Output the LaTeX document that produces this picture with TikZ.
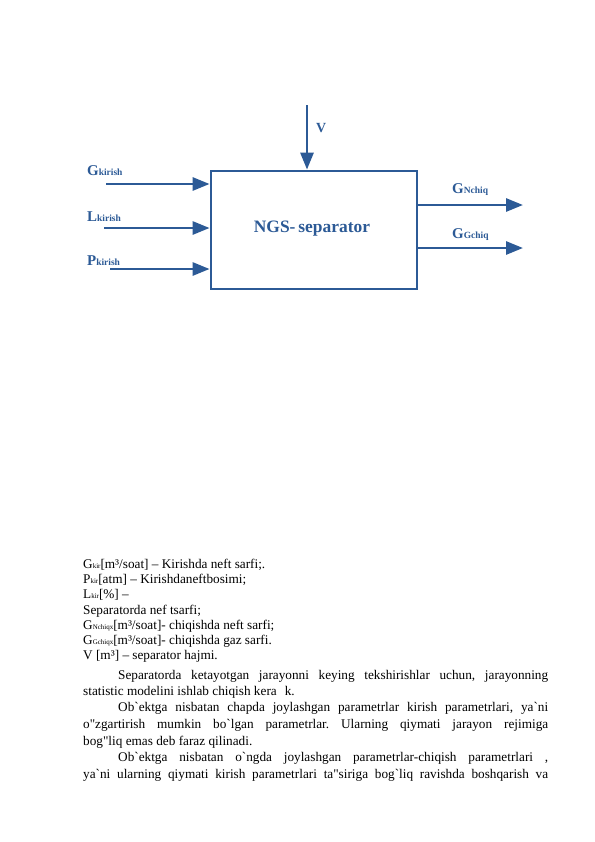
\documentclass[tikz,border=0pt]{standalone}
\usepackage{fontspec}
\setmainfont{Liberation Serif}[Ligatures=TeXOff]
\usetikzlibrary{arrows.meta}
\definecolor{dblue}{RGB}{44,90,150}
\frenchspacing
\newcommand{\tsub}[1]{{\fontsize{7}{7}\selectfont #1}}
\newcommand{\lbl}[2]{{\fontsize{15}{15}\selectfont #1}{\fontsize{9.5}{9.5}\selectfont #2}}
\tikzset{
  arr/.style={draw=dblue, line width=2.8bp, -{Triangle[length=17bp,width=13bp]}},
  blk/.style={draw=dblue, line width=2.8bp, rectangle, minimum width=206bp, minimum height=118bp, inner sep=0},
  dlbl/.style={anchor=base west, inner sep=0, text=dblue, font=\bfseries},
  txt/.style={anchor=base west, inner sep=0, font=\fontsize{13.3}{16}\selectfont}
}
\begin{document}
\begin{tikzpicture}[x=1bp,y=-1bp]
\useasboundingbox[fill=white] (0,0) rectangle (595,842);
% block
\node[blk] (box) at (314,230) {};
\node[anchor=base, inner sep=0, text=dblue, font=\bfseries\fontsize{17.5}{17.5}\selectfont] (title) at (312,232) {NGS-\,separator};
% V arrow
\coordinate (vtop) at (307,105);
\draw[arr] (vtop) -- (vtop |- box.north);
\node[dlbl, font=\bfseries\fontsize{14}{14}\selectfont] (vl) at (316,132) {V};
% inputs
\coordinate (gin) at (106,184);
\coordinate (lin) at (104,228);
\coordinate (pin) at (110,269);
\draw[arr] (gin) -- (gin -| box.west);
\draw[arr] (lin) -- (lin -| box.west);
\draw[arr] (pin) -- (pin -| box.west);
\node[dlbl] (gl) at (87,175) {\lbl{G}{kirish}};
\node[dlbl] (ll) at (87,221) {\lbl{L}{kirish}};
\node[dlbl] (pl) at (87,265) {\lbl{P}{kirish}};
% outputs
\coordinate (gno) at (523,205);
\coordinate (ggo) at (523,248);
\draw[arr] (gno -| box.east) -- (gno);
\draw[arr] (ggo -| box.east) -- (ggo);
\node[dlbl] (gnl) at (452,193) {\lbl{G}{Nchiq}};
\node[dlbl] (ggl) at (452,238) {\lbl{G}{Gchiq}};
% text
\node[txt] (t1) at (83,568) {G\tsub{kir}[m³/soat] – Kirishda neft sarfi;.};
\node[txt] (t2) at (83,583) {P\tsub{kir}[atm] – Kirishdaneftbosimi;};
\node[txt] (t3) at (83,598.5) {L\tsub{kir}[\%] –};
\node[txt] (t4) at (83,614) {Separatorda nef tsarfi;};
\node[txt] (t5) at (83,629) {G\tsub{Nchiqx}[m³/soat]- chiqishda neft sarfi;};
\node[txt] (t6) at (83,644) {G\tsub{Gchiqx}[m³/soat]- chiqishda gaz sarfi.};
\node[txt] (t7) at (83,659) {V [m³] – separator hajmi.};
\node[txt] (p1) at (118,679) {\makebox[430bp][s]{Separatorda ketayotgan jarayonni keying tekshirishlar uchun, jarayonning}};
\node[txt] (p2) at (83,695) {statistic modelini ishlab chiqish kera\hspace{8bp}k.};
\node[txt] (p3) at (118,711.5) {\makebox[430bp][s]{Ob`ektga nisbatan chapda joylashgan parametrlar kirish parametrlari, ya`ni}};
\node[txt] (p4) at (83,728) {\makebox[465bp][s]{o"zgartirish mumkin bo`lgan parametrlar. Ularning qiymati jarayon rejimiga}};
\node[txt] (p5) at (83,745) {bog"liq emas deb faraz qilinadi.};
\node[txt] (p6) at (118,761.5) {\makebox[430bp][s]{Ob`ektga nisbatan o`ngda joylashgan parametrlar-chiqish parametrlari ,}};
\node[txt] (p7) at (83,778) {\makebox[465bp][s]{ya`ni ularning qiymati kirish parametrlari ta"siriga bog`liq ravishda boshqarish va}};
\end{tikzpicture}
\end{document}
